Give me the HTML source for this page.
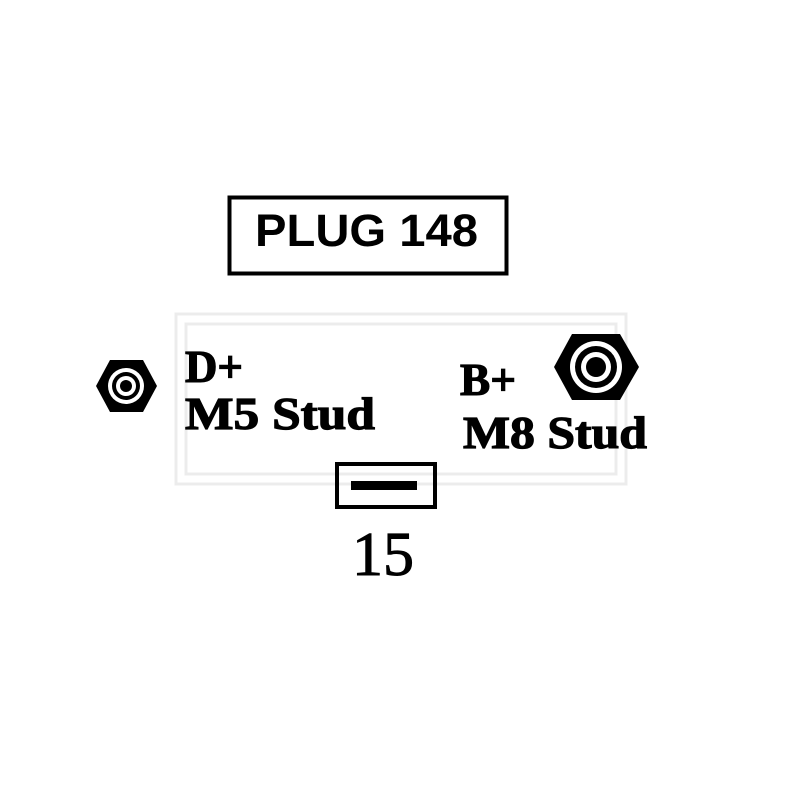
<!DOCTYPE html>
<html><head><style>
body{margin:0;background:#fff;}
</style></head><body>
<svg width="800" height="800" xmlns="http://www.w3.org/2000/svg">
<rect width="800" height="800" fill="#fff"/>
<g fill="none" stroke="#ececec" stroke-width="3">
<rect x="176" y="314" width="450" height="170"/>
<rect x="186" y="324" width="430" height="150"/>
</g>
<rect x="229.5" y="197.5" width="277" height="76" fill="none" stroke="#000" stroke-width="4"/>
<text x="255" y="246" textLength="223" lengthAdjust="spacingAndGlyphs" font-family="Liberation Sans, sans-serif" font-weight="bold" font-size="45">PLUG 148</text>
<polygon points="96,386 110,360 143,360 157,386 143,412 110,412" fill="#000"/>
<circle cx="126" cy="386" r="18" fill="#fff"/>
<circle cx="126" cy="386" r="14" fill="#000"/>
<circle cx="126" cy="386" r="10" fill="#fff"/>
<circle cx="126" cy="386" r="6" fill="#000"/>
<polygon points="554,367 572,334 620,334 639,367 620,400 572,400" fill="#000"/>
<circle cx="596" cy="367" r="26" fill="#fff"/>
<circle cx="596" cy="367" r="21" fill="#000"/>
<circle cx="596" cy="367" r="15" fill="#fff"/>
<circle cx="596" cy="367" r="10" fill="#000"/>
<g font-family="Liberation Serif, serif" font-weight="bold" font-size="46" stroke="#000" stroke-width="1.2">
<text x="185" y="382" textLength="58" lengthAdjust="spacingAndGlyphs">D+</text>
<text x="185" y="429" textLength="190" lengthAdjust="spacingAndGlyphs">M5 Stud</text>
<text x="460" y="395" textLength="56" lengthAdjust="spacingAndGlyphs">B+</text>
<text x="463" y="448" textLength="184" lengthAdjust="spacingAndGlyphs">M8 Stud</text>
</g>
<rect x="337" y="464" width="98" height="43" fill="none" stroke="#000" stroke-width="4"/>
<rect x="351" y="481" width="66" height="9" fill="#000"/>
<text x="383" y="575" text-anchor="middle" font-family="Liberation Serif, serif" font-size="62" stroke="#000" stroke-width="1">15</text>
</svg>
</body></html>
